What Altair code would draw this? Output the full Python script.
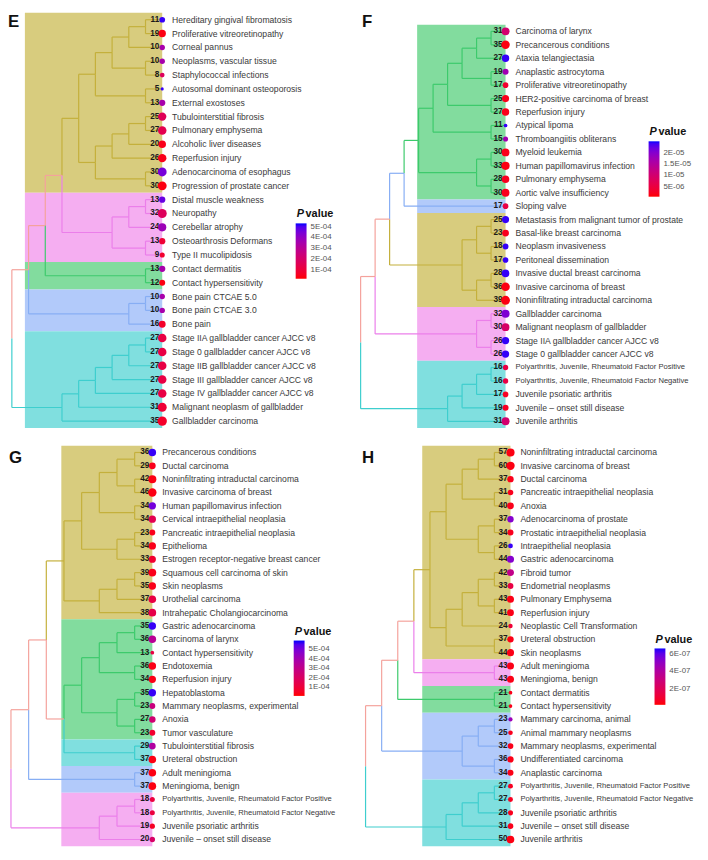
import altair as alt
import pandas as pd

# ---------------- palettes ----------------
BG = {"yellow": "#D8CC7E", "pink": "#F5AEF1", "green": "#82DC9E", "blue": "#B2CAFA", "cyan": "#80DFDF"}
LINE = {"yellow": "#C4B03C", "pink": "#EB7FEA", "green": "#3DCA6C", "blue": "#87AEF4",
        "cyan": "#3ECECE", "mix": "#F4A29C"}
LABEL_FONT = "Liberation Sans, Arial, sans-serif"
NUM_FONT = "Liberation Sans, Arial, sans-serif"

# ---------------- Panel E ----------------
E_labels = ["Hereditary gingival fibromatosis", "Proliferative vitreoretinopathy", "Corneal pannus",
            "Neoplasms, vascular tissue", "Staphylococcal infections", "Autosomal dominant osteoporosis",
            "External exostoses", "Tubulointerstitial fibrosis", "Pulmonary emphysema",
            "Alcoholic liver diseases", "Reperfusion injury", "Adenocarcinoma of esophagus",
            "Progression of prostate cancer", "Distal muscle weakness", "Neuropathy", "Cerebellar atrophy",
            "Osteoarthrosis Deformans", "Type II mucolipidosis", "Contact dermatitis",
            "Contact hypersensitivity", "Bone pain CTCAE 5.0", "Bone pain CTCAE 3.0", "Bone pain",
            "Stage IIA gallbladder cancer AJCC v8", "Stage 0 gallbladder cancer AJCC v8",
            "Stage IIB gallbladder cancer AJCC v8", "Stage III gallbladder cancer AJCC v8",
            "Stage IV gallbladder cancer AJCC v8", "Malignant neoplasm of gallbladder",
            "Gallbladder carcinoma"]
E_counts = [11, 19, 10, 10, 8, 5, 13, 25, 27, 20, 26, 30, 30, 13, 32, 24, 13, 9, 13, 12, 10, 10, 16,
            27, 27, 27, 27, 27, 31, 35]
E_pvalues = [5.15e-4, 3.0e-5, 3.5e-4, 3.5e-4, 1.7e-4, 5.15e-4, 3.5e-4, 1.6e-4, 1.4e-4, 4.0e-5, 4.0e-5,
             4.5e-4, 3.0e-5, 4.7e-4, 1.7e-4, 3.75e-4, 9.0e-5, 7.7e-5, 3.5e-4, 3.0e-5, 3.5e-4, 3.5e-4,
             6.6e-5, 1.2e-4, 1.2e-4, 1.2e-4, 1.2e-4, 1.2e-4, 9.0e-5, 6.6e-5]
E_runs = [("yellow", 13), ("pink", 5), ("green", 2), ("blue", 3), ("cyan", 7)]
E_yA = [4, [3, [2, [1, 0, 1], 2], [1, 3, 4]], [1, 5, 6]]
E_yB = [4, [3, [2, [1, 7, 8], 9], 10], [1, 11, 12]]
E_pink = [3, [2, [1, 13, 14], 15], [1, 16, 17]]
E_cyan = [6, [5, [4, [3, [2, [1, 23, 24], 25], 26], 27], 28], 29]
E_tree = [9, [8, [7, [6, [5, E_yA, E_yB], E_pink], [1, 18, 19]], [2, [1, 20, 21], 22]], E_cyan]

# ---------------- Panel F ----------------
F_labels = ["Carcinoma of larynx", "Precancerous conditions", "Ataxia telangiectasia",
            "Anaplastic astrocytoma", "Proliferative vitreoretinopathy", "HER2-positive carcinoma of breast",
            "Reperfusion injury", "Atypical lipoma", "Thromboangiitis obliterans", "Myeloid leukemia",
            "Human papillomavirus infection", "Pulmonary emphysema", "Aortic valve insufficiency",
            "Sloping valve", "Metastasis from malignant tumor of prostate", "Basal-like breast carcinoma",
            "Neoplasm invasiveness", "Peritoneal dissemination", "Invasive ductal breast carcinoma",
            "Invasive carcinoma of breast", "Noninfiltrating intraductal carcinoma", "Gallbladder carcinoma",
            "Malignant neoplasm of gallbladder", "Stage IIA gallbladder cancer AJCC v8",
            "Stage 0 gallbladder cancer AJCC v8", "Polyarthritis, Juvenile, Rheumatoid Factor Positive",
            "Polyarthritis, Juvenile, Rheumatoid Factor Negative", "Juvenile psoriatic arthritis",
            "Juvenile – onset still disease", "Juvenile arthritis"]
F_counts = [31, 35, 27, 19, 17, 25, 27, 11, 15, 30, 33, 28, 30, 17, 25, 23, 18, 17, 28, 36, 39, 32, 30,
            26, 26, 16, 16, 17, 19, 31]
F_pvalues = [1.0e-5, 1.4e-6, 2.43e-5, 1.72e-5, 3.6e-6, 1.9e-6, 1.9e-6, 2.43e-5, 1.72e-5, 1.9e-6, 1.4e-6,
             2.2e-6, 1.9e-6, 5.6e-6, 2.43e-5, 2.2e-6, 2.43e-5, 2.43e-5, 2.43e-5, 1.4e-6, 1.4e-6, 2.06e-5,
             9.2e-6, 2.43e-5, 2.43e-5, 5.6e-6, 5.6e-6, 2.6e-6, 2.6e-6, 1.0e-5]
F_runs = [("green", 13), ("blue", 1), ("yellow", 7), ("pink", 4), ("cyan", 5)]
F_gA = [5, [4, [3, [2, [1, 0, 1], 2], [1, 3, 4]], [1, 5, 6]], [1, 7, 8]]
F_gB = [2, [1, 9, 10], [1, 11, 12]]
F_yellow = [3, [2, [1, 14, 15], [1, 16, 17]], [2, [1, 18, 19], 20]]
F_tree = [10, [9, [8, [7, [6, F_gA, F_gB], 13, "blue"], F_yellow], [2, [1, 21, 22], [1, 23, 24]]],
          [4, [3, [2, [1, 25, 26], 27], 28], 29]]

# ---------------- Panel G ----------------
G_labels = ["Precancerous conditions", "Ductal carcinoma", "Noninfiltrating intraductal carcinoma",
            "Invasive carcinoma of breast", "Human papillomavirus infection",
            "Cervical intraepithelial neoplasia", "Pancreatic intraepithelial neoplasia", "Epithelioma",
            "Estrogen receptor-negative breast cancer", "Squamous cell carcinoma of skin", "Skin neoplasms",
            "Urothelial carcinoma", "Intrahepatic Cholangiocarcinoma", "Gastric adenocarcinoma",
            "Carcinoma of larynx", "Contact hypersensitivity", "Endotoxemia", "Reperfusion injury",
            "Hepatoblastoma", "Mammary neoplasms, experimental", "Anoxia", "Tumor vasculature",
            "Tubulointerstitial fibrosis", "Ureteral obstruction", "Adult meningioma", "Meningioma, benign",
            "Polyarthritis, Juvenile, Rheumatoid Factor Positive",
            "Polyarthritis, Juvenile, Rheumatoid Factor Negative", "Juvenile psoriatic arthritis",
            "Juvenile – onset still disease"]
G_counts = [36, 29, 42, 46, 34, 34, 23, 34, 33, 39, 35, 37, 38, 35, 36, 13, 36, 34, 35, 23, 27, 23, 29,
            37, 37, 37, 18, 18, 19, 20]
G_pvalues = [5.77e-4, 3.5e-5, 2.3e-5, 2.3e-5, 5.07e-4, 1.53e-4, 3.5e-5, 3.5e-5, 7.6e-5, 3.5e-5, 3.5e-5,
             1.23e-4, 1.35e-4, 5.77e-4, 3.3e-4, 1.23e-4, 2.9e-5, 2.9e-5, 5.77e-4, 2.7e-4, 2.4e-4, 7.6e-5,
             3.6e-4, 2.3e-5, 2.3e-5, 2.3e-5, 1.11e-4, 1.11e-4, 5.2e-5, 2.1e-4]
G_runs = [("yellow", 13), ("green", 9), ("cyan", 2), ("blue", 2), ("pink", 4)]
G_yA = [4, [3, [2, [1, 0, 1], [1, 2, 3]], [1, 4, 5]], [2, [1, 6, 7], 8]]
G_yB = [3, [2, [1, 9, 10], 11], 12]
G_green = [4, [3, [2, [1, 13, 14], 15], [1, 16, 17]], [2, [1, 18, 19], [1, 20, 21]]]
G_tree = [8, [7, [6, [5, G_yA, G_yB], [5, G_green, [1, 22, 23]]], [1, 24, 25]],
          [3, [2, [1, 26, 27], 28], 29]]

# ---------------- Panel H ----------------
H_labels = ["Noninfiltrating intraductal carcinoma", "Invasive carcinoma of breast", "Ductal carcinoma",
            "Pancreatic intraepithelial neoplasia", "Anoxia", "Adenocarcinoma of prostate",
            "Prostatic intraepithelial neoplasia", "Intraepithelial neoplasia", "Gastric adenocarcinoma",
            "Fibroid tumor", "Endometrial neoplasms", "Pulmonary Emphysema", "Reperfusion injury",
            "Neoplastic Cell Transformation", "Ureteral obstruction", "Skin neoplasms", "Adult meningioma",
            "Meningioma, benign", "Contact dermatitis", "Contact hypersensitivity",
            "Mammary carcinoma, animal", "Animal mammary neoplasms", "Mammary neoplasms, experimental",
            "Undifferentiated carcinoma", "Anaplastic carcinoma",
            "Polyarthritis, Juvenile, Rheumatoid Factor Positive",
            "Polyarthritis, Juvenile, Rheumatoid Factor Negative", "Juvenile psoriatic arthritis",
            "Juvenile – onset still disease", "Juvenile arthritis"]
H_counts = [57, 60, 37, 31, 40, 37, 34, 26, 44, 42, 33, 43, 41, 24, 37, 44, 43, 43, 21, 21, 23, 25, 32,
            36, 34, 27, 27, 28, 31, 50]
H_pvalues = [4.1e-8, 4.1e-8, 5.4e-8, 6.0e-8, 5.4e-8, 5.3e-7, 6.0e-8, 6.4e-7, 5.3e-7, 3.4e-7, 1.5e-7,
             4.8e-8, 4.8e-8, 1.18e-7, 4.8e-8, 4.8e-8, 4.8e-8, 4.8e-8, 5.4e-8, 5.4e-8, 4.7e-7, 6.0e-8,
             5.4e-8, 4.8e-8, 4.8e-8, 6.7e-8, 6.7e-8, 6.0e-8, 5.4e-8, 4.1e-8]
H_runs = [("yellow", 16), ("pink", 2), ("green", 2), ("blue", 5), ("cyan", 5)]
H_yA = [4, [3, [2, [1, 0, 1], 2], [1, 3, 4]], [2, [1, 5, 6], [1, 7, 8]]]
H_yB = [4, [3, [2, [1, 9, 10], [1, 11, 12]], 13], [1, 14, 15]]
H_tree = [9, [8, [7, [6, [5, H_yA, H_yB], [1, 16, 17]], [1, 18, 19]], [3, [2, [1, 20, 21], 22], [1, 23, 24]]],
          [4, [3, [2, [1, 25, 26], 27], 28], 29]]

# legend scales
E_pdomain, E_ticks = [1.5e-5, 5.3e-4], [1e-4, 2e-4, 3e-4, 4e-4, 5e-4]
F_pdomain, F_ticks = [7e-7, 2.5e-5], [5e-6, 1e-5, 1.5e-5, 2e-5]
G_pdomain, G_ticks = [5e-6, 5.95e-4], [1e-4, 2e-4, 3e-4, 4e-4, 5e-4]
H_pdomain, H_ticks = [2.2e-8, 6.6e-7], [2e-7, 4e-7, 6e-7]


def build_panel(letter, labels, counts, pvalues, runs, tree, pdomain, pticks, cfg):
    clusters = []
    for name, k in runs:
        clusters.extend([name] * k)
    n = len(labels)
    leaves = pd.DataFrame({"row": list(range(n)), "label": labels, "count": counts, "p": pvalues,
                           "lvl": [0.0] * n})
    leaves["small"] = leaves["label"].str.len() > 45

    segs = []

    def walk(node):
        if isinstance(node, int):
            return float(node), 0.0, clusters[node]
        h = float(node[0])
        ya, ha, ga = walk(node[1])
        yb, hb, gb = walk(node[2])
        y = (ya + yb) / 2
        g = node[3] if len(node) > 3 else (ga if ga == gb else "mix")
        for yc, hc, gc in ((ya, ha, ga), (yb, hb, gb)):
            segs.append({"x": h, "x2": h, "y": y, "y2": yc, "col": LINE[gc]})
            segs.append({"x": h, "x2": hc, "y": yc, "y2": yc, "col": LINE[gc]})
        return y, h, g

    walk(tree)
    segs = pd.DataFrame(segs)

    bands = []
    start = 0
    for name, k in runs:
        bands.append({"y": start - 0.5, "y2": start + k - 0.5, "x": cfg["bg"], "x2": 0.0, "col": BG[name]})
        start += k
    bands = pd.DataFrame(bands)

    W, H = cfg["w"], cfg["h"]
    xs = alt.Scale(domain=[cfg["leaf"] / cfg["step"], (cfg["leaf"] - W) / cfg["step"]], nice=False, zero=False)
    ys = alt.Scale(domain=[cfg["y0"], n - 0.5], nice=False, zero=False, reverse=True)

    bg = alt.Chart(bands).mark_rect().encode(
        x=alt.X("x:Q", scale=xs, axis=None), x2="x2:Q",
        y=alt.Y("y:Q", scale=ys, axis=None), y2="y2:Q",
        fill=alt.Fill("col:N", scale=None))
    seg = alt.Chart(segs).mark_rule(strokeWidth=1.2).encode(
        x=alt.X("x:Q", scale=xs, axis=None), x2="x2:Q",
        y=alt.Y("y:Q", scale=ys, axis=None), y2="y2:Q",
        stroke=alt.Stroke("col:N", scale=None))
    base = alt.Chart(leaves).encode(x=alt.X("lvl:Q", scale=xs, axis=None),
                                    y=alt.Y("row:Q", scale=ys, axis=None))
    cnt = base.mark_text(align="right", baseline="middle", dx=-3, fontSize=8.3, fontWeight="bold",
                         font=NUM_FONT, color="#1a1a1a").encode(text="count:Q")
    pts = base.mark_circle(opacity=1).encode(
        size=alt.Size("count:Q", scale=alt.Scale(type="sqrt", domain=[min(counts), max(counts)],
                                                 range=cfg["srange"], zero=False), legend=None),
        color=alt.Color("p:Q", scale=alt.Scale(domain=pdomain, range=["#FF0000", "#0000FF"],
                                               interpolate="lab", nice=False, zero=False),
                        legend=alt.Legend(orient="none", legendX=cfg["lgx"], legendY=cfg["lgy"], title=None,
                                          direction="vertical", gradientLength=cfg["glen"],
                                          gradientThickness=11, values=pticks, padding=0,
                                          labelExpr="replace(upper(format(datum.value, '.2~e')), 'E-', 'E-0')",
                                          labelFontSize=8, labelColor="#555555", labelFont=NUM_FONT,
                                          labelOffset=4, labelOverlap=False, gradientStrokeWidth=0)))
    lab_big = base.transform_filter("!datum.small").mark_text(
        align="left", baseline="middle", dx=10, fontSize=8.7, font=LABEL_FONT, color="#3a3a3a"
    ).encode(text="label:N")
    lab_small = base.transform_filter("datum.small").mark_text(
        align="left", baseline="middle", dx=10, fontSize=7.7, font=LABEL_FONT, color="#3a3a3a"
    ).encode(text="label:N")
    let = alt.Chart(pd.DataFrame({"t": [letter]})).mark_text(
        align="left", baseline="alphabetic", fontSize=17, fontWeight="bold", font=NUM_FONT, color="#111111"
    ).encode(text="t:N", x=alt.value(cfg["lx"]), y=alt.value(cfg["ly"]))
    tP = alt.Chart(pd.DataFrame({"t": ["P"]})).mark_text(
        align="left", baseline="alphabetic", fontSize=11, fontWeight="bold", fontStyle="italic",
        font=NUM_FONT, color="#111111"
    ).encode(text="t:N", x=alt.value(cfg["lgx"] + 1), y=alt.value(cfg["lgy"] - 6))
    tV = alt.Chart(pd.DataFrame({"t": ["value"]})).mark_text(
        align="left", baseline="alphabetic", fontSize=11, fontWeight="bold", font=NUM_FONT, color="#111111"
    ).encode(text="t:N", x=alt.value(cfg["lgx"] + 10), y=alt.value(cfg["lgy"] - 6))
    return alt.layer(bg, seg, cnt, pts, lab_big, lab_small, let, tP, tV).properties(width=W, height=H)


E = build_panel("E", E_labels, E_counts, E_pvalues, E_runs, E_tree, E_pdomain, E_ticks,
                dict(w=346, h=420, leaf=156, step=16.9, y0=-0.5, bg=8.22, lx=0, ly=14,
                     lgx=291, lgy=213, glen=56, srange=[10, 90]))
F = build_panel("F", F_labels, F_counts, F_pvalues, F_runs, F_tree, F_pdomain, F_ticks,
                dict(w=350, h=420, leaf=153.3, step=14.66, y0=-1.38, bg=6.1, lx=8, ly=14,
                     lgx=298, lgy=130, glen=56, srange=[14, 80]))
G = build_panel("G", G_labels, G_counts, G_pvalues, G_runs, G_tree, G_pdomain, G_ticks,
                dict(w=346, h=405, leaf=146, step=17.875, y0=-0.5, bg=5.15, lx=1, ly=17,
                     lgx=289, lgy=197, glen=56, srange=[14, 72]))
H = build_panel("H", H_labels, H_counts, H_pvalues, H_runs, H_tree, H_pdomain, H_ticks,
                dict(w=350, h=405, leaf=158.3, step=16.29, y0=-0.5, bg=5.48, lx=8, ly=17,
                     lgx=304, lgy=205, glen=57, srange=[14, 72]))

RES = dict(x="independent", y="independent", color="independent", size="independent")
top = alt.hconcat(E, F, spacing=4).resolve_scale(**RES).resolve_legend(color="independent")
bot = alt.hconcat(G, H, spacing=4).resolve_scale(**RES).resolve_legend(color="independent")
chart = (alt.vconcat(top, bot, spacing=18)
         .resolve_scale(**RES).resolve_legend(color="independent")
         .properties(padding=0)
         .configure_view(strokeWidth=0))

chart.save("out.html", embed_options={"renderer": "svg", "actions": False})
